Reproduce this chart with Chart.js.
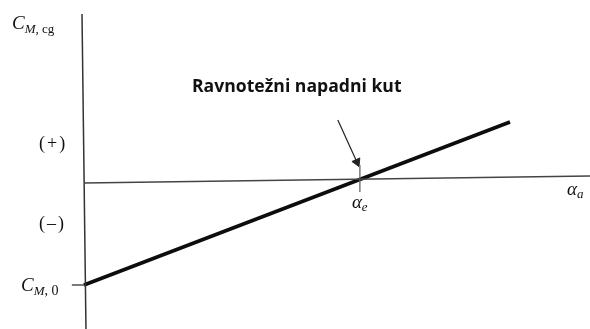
<!DOCTYPE html>
<html lang="hr">
<head>
    <meta charset="UTF-8">
    <title>Ravnotežni napadni kut</title>
    <script src="https://cdn.jsdelivr.net/npm/chart.js"></script>
    <style>
        body { margin: 0; background: #fff; }
        #graf { display: block; }
    </style>
</head>
<body>
    <!-- Dijagram momenta propinjanja oko težišta -->
    <canvas id="graf" width="590" height="329"></canvas>

<script>
    // Pravac C_M,cg u ovisnosti o napadnom kutu (proizvoljne jedinice)
    const alfa = [0, 7.72];
    const cm = [-0.105, 0.058];

    // Ravnotežni napadni kut (C_M = 0)
    const alfaE = 5;

    // Osi (sken je malo zakrenut)
    const osX_alfa = [0, 9.17];
    const osX_cm = [-0.003, 0.004];
    const osY_alfa = [-0.036, 0.036];
    const osY_cm = [0.166, -0.149];

    // Strelica prema ravnotežnoj točki
    const strelica_alfa = [4.60, 4.946];
    const strelica_cm = [0.060, 0.018];

    const oznake = {
        naslov: 'Ravnotežni napadni kut',
        plus: '(+)',
        minus: '(\u2013)'
    };

    function tocke(xs, ys) {
        return xs.map((x, i) => ({ x: x, y: ys[i] }));
    }

    const ctx = document.getElementById('graf');

    // tekstovi crtani rukom preko grafa
    const tekstovi = {
        id: 'tekstovi',
        afterDraw(chart) {
            const c = chart.ctx;
            const sx = chart.scales.x;
            const sy = chart.scales.y;
            c.save();
            c.fillStyle = '#111';
            c.textBaseline = 'alphabetic';

            function niz(x, y, dijelovi) {
                dijelovi.forEach(d => {
                    c.font = d[1];
                    c.fillText(d[0], x, y + (d[2] || 0));
                    x += c.measureText(d[0]).width;
                });
            }

            // C_M,cg na vrhu osi
            niz(12, 29, [
                ['C', 'italic 19px "Liberation Serif"'],
                ['M', 'italic 13px "Liberation Serif"', 4],
                [', cg', '13px "Liberation Serif"', 4]
            ]);

            // (+) i (-)
            c.font = '18px "Liberation Serif"';
            c.letterSpacing = '2px';
            c.fillText(oznake.plus, 39, 149);
            c.fillText(oznake.minus, 39, 229);
            c.letterSpacing = '0px';

            // C_M,0
            const y0 = sy.getPixelForValue(cm[0]);
            niz(21, y0 + 6, [
                ['C', 'italic 19px "Liberation Serif"'],
                ['M', 'italic 13px "Liberation Serif"', 4],
                [', 0', '14px "Liberation Serif"', 4]
            ]);

            // alfa_e ispod osi
            const xe = sx.getPixelForValue(alfaE);
            niz(xe - 8, 208, [
                ['\u03b1', 'italic 19px "Liberation Serif"'],
                ['e', 'italic 13px "Liberation Serif"', 3]
            ]);

            // alfa_a na kraju osi
            niz(567, 195, [
                ['\u03b1', 'italic 19px "Liberation Serif"'],
                ['a', 'italic 13px "Liberation Serif"', 3]
            ]);

            // naslov strelice
            c.font = 'bold 17px "Open Sans"';
            const w = c.measureText(oznake.naslov).width;
            const vel = 17 * 209 / w;
            c.font = 'bold ' + vel.toFixed(1) + 'px "Open Sans"';
            c.fillText(oznake.naslov, 192, 92);

            c.restore();
        }
    };

    new Chart(ctx, {
        type: 'scatter',
        data: {
            datasets: [
                {
                    label: 'os x',
                    data: tocke(osX_alfa, osX_cm),
                    showLine: true,
                    borderColor: '#444',
                    borderWidth: 1.3,
                    pointRadius: 0
                },
                {
                    label: 'os y',
                    data: tocke(osY_alfa, osY_cm),
                    showLine: true,
                    borderColor: '#333',
                    borderWidth: 1.5,
                    pointRadius: 0
                },
                {
                    label: 'crtica alfa_e',
                    data: tocke([alfaE, alfaE], [0.015, -0.012]),
                    showLine: true,
                    borderColor: '#666',
                    borderWidth: 1.3,
                    pointRadius: 0
                },
                {
                    label: 'crtica C_M,0',
                    data: tocke([-0.22, 0], [cm[0], cm[0]]),
                    showLine: true,
                    borderColor: '#333',
                    borderWidth: 1.3,
                    pointRadius: 0
                },
                {
                    label: 'C_M,cg',
                    data: tocke(alfa, cm),
                    showLine: true,
                    borderColor: '#0d0d0d',
                    borderWidth: 3.6,
                    borderCapStyle: 'butt',
                    pointRadius: 0
                },
                {
                    label: 'strelica',
                    data: tocke(strelica_alfa, strelica_cm),
                    showLine: true,
                    borderColor: '#222',
                    borderWidth: 1.2,
                    pointStyle: 'triangle',
                    pointRadius: [0, 5],
                    pointRotation: 155.5,
                    pointBackgroundColor: '#222',
                    pointBorderColor: '#222',
                    pointBorderWidth: 1
                }
            ]
        },
        options: {
            responsive: false,
            animation: false,
            devicePixelRatio: 1,
            layout: { padding: 0, autoPadding: false },
            plugins: {
                legend: { display: false },
                tooltip: { enabled: false }
            },
            scales: {
                x: { type: 'linear', min: -1.522, max: 9.17, display: false },
                y: { type: 'linear', min: -0.149, max: 0.18, display: false }
            }
        },
        plugins: [tekstovi]
    });
</script>
</body>
</html>
